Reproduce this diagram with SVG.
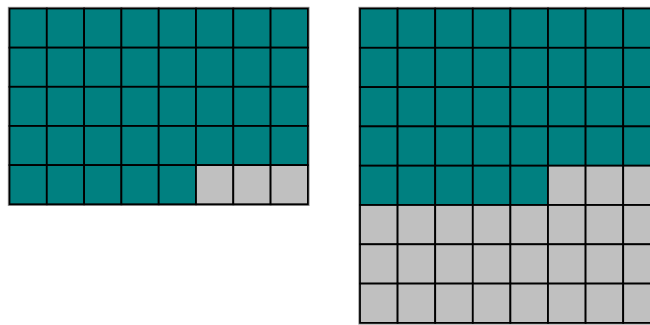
<svg xmlns="http://www.w3.org/2000/svg" width="650" height="325" viewBox="0 0 650 325">
<style>
.t{fill:#008080;stroke:#000;stroke-width:1.8}
.g{fill:#c0c0c0;stroke:#000;stroke-width:1.8}
.o{fill:none;stroke:#999;stroke-width:1}
</style>
<rect width="650" height="325" fill="#fff"/>
<g id="grid-left">
<rect class="o" x="8.3" y="7.3" width="300.8" height="198.2"/>
<g id="left-cells">
<rect class="t" x="9.5" y="8.5" width="37.3" height="39.15"/><rect class="t" x="46.8" y="8.5" width="37.3" height="39.15"/><rect class="t" x="84.1" y="8.5" width="37.3" height="39.15"/><rect class="t" x="121.4" y="8.5" width="37.3" height="39.15"/><rect class="t" x="158.7" y="8.5" width="37.3" height="39.15"/><rect class="t" x="196" y="8.5" width="37.3" height="39.15"/><rect class="t" x="233.3" y="8.5" width="37.3" height="39.15"/><rect class="t" x="270.6" y="8.5" width="37.3" height="39.15"/>
<rect class="t" x="9.5" y="47.65" width="37.3" height="39.15"/><rect class="t" x="46.8" y="47.65" width="37.3" height="39.15"/><rect class="t" x="84.1" y="47.65" width="37.3" height="39.15"/><rect class="t" x="121.4" y="47.65" width="37.3" height="39.15"/><rect class="t" x="158.7" y="47.65" width="37.3" height="39.15"/><rect class="t" x="196" y="47.65" width="37.3" height="39.15"/><rect class="t" x="233.3" y="47.65" width="37.3" height="39.15"/><rect class="t" x="270.6" y="47.65" width="37.3" height="39.15"/>
<rect class="t" x="9.5" y="86.8" width="37.3" height="39.15"/><rect class="t" x="46.8" y="86.8" width="37.3" height="39.15"/><rect class="t" x="84.1" y="86.8" width="37.3" height="39.15"/><rect class="t" x="121.4" y="86.8" width="37.3" height="39.15"/><rect class="t" x="158.7" y="86.8" width="37.3" height="39.15"/><rect class="t" x="196" y="86.8" width="37.3" height="39.15"/><rect class="t" x="233.3" y="86.8" width="37.3" height="39.15"/><rect class="t" x="270.6" y="86.8" width="37.3" height="39.15"/>
<rect class="t" x="9.5" y="125.95" width="37.3" height="39.15"/><rect class="t" x="46.8" y="125.95" width="37.3" height="39.15"/><rect class="t" x="84.1" y="125.95" width="37.3" height="39.15"/><rect class="t" x="121.4" y="125.95" width="37.3" height="39.15"/><rect class="t" x="158.7" y="125.95" width="37.3" height="39.15"/><rect class="t" x="196" y="125.95" width="37.3" height="39.15"/><rect class="t" x="233.3" y="125.95" width="37.3" height="39.15"/><rect class="t" x="270.6" y="125.95" width="37.3" height="39.15"/>
<rect class="t" x="9.5" y="165.1" width="37.3" height="39.15"/><rect class="t" x="46.8" y="165.1" width="37.3" height="39.15"/><rect class="t" x="84.1" y="165.1" width="37.3" height="39.15"/><rect class="t" x="121.4" y="165.1" width="37.3" height="39.15"/><rect class="t" x="158.7" y="165.1" width="37.3" height="39.15"/><rect class="g" x="196" y="165.1" width="37.3" height="39.15"/><rect class="g" x="233.3" y="165.1" width="37.3" height="39.15"/><rect class="g" x="270.6" y="165.1" width="37.3" height="39.15"/>
</g>
</g>
<g id="grid-right">
<rect class="o" x="358.8" y="7.3" width="310" height="316.8"/>
<g id="right-cells">
<rect class="t" x="360" y="8.5" width="37.6" height="39.3"/><rect class="t" x="397.6" y="8.5" width="37.6" height="39.3"/><rect class="t" x="435.2" y="8.5" width="37.6" height="39.3"/><rect class="t" x="472.8" y="8.5" width="37.6" height="39.3"/><rect class="t" x="510.4" y="8.5" width="37.6" height="39.3"/><rect class="t" x="548" y="8.5" width="37.6" height="39.3"/><rect class="t" x="585.6" y="8.5" width="37.6" height="39.3"/><rect class="t" x="623.2" y="8.5" width="37.6" height="39.3"/>
<rect class="t" x="360" y="47.8" width="37.6" height="39.3"/><rect class="t" x="397.6" y="47.8" width="37.6" height="39.3"/><rect class="t" x="435.2" y="47.8" width="37.6" height="39.3"/><rect class="t" x="472.8" y="47.8" width="37.6" height="39.3"/><rect class="t" x="510.4" y="47.8" width="37.6" height="39.3"/><rect class="t" x="548" y="47.8" width="37.6" height="39.3"/><rect class="t" x="585.6" y="47.8" width="37.6" height="39.3"/><rect class="t" x="623.2" y="47.8" width="37.6" height="39.3"/>
<rect class="t" x="360" y="87.1" width="37.6" height="39.3"/><rect class="t" x="397.6" y="87.1" width="37.6" height="39.3"/><rect class="t" x="435.2" y="87.1" width="37.6" height="39.3"/><rect class="t" x="472.8" y="87.1" width="37.6" height="39.3"/><rect class="t" x="510.4" y="87.1" width="37.6" height="39.3"/><rect class="t" x="548" y="87.1" width="37.6" height="39.3"/><rect class="t" x="585.6" y="87.1" width="37.6" height="39.3"/><rect class="t" x="623.2" y="87.1" width="37.6" height="39.3"/>
<rect class="t" x="360" y="126.4" width="37.6" height="39.3"/><rect class="t" x="397.6" y="126.4" width="37.6" height="39.3"/><rect class="t" x="435.2" y="126.4" width="37.6" height="39.3"/><rect class="t" x="472.8" y="126.4" width="37.6" height="39.3"/><rect class="t" x="510.4" y="126.4" width="37.6" height="39.3"/><rect class="t" x="548" y="126.4" width="37.6" height="39.3"/><rect class="t" x="585.6" y="126.4" width="37.6" height="39.3"/><rect class="t" x="623.2" y="126.4" width="37.6" height="39.3"/>
<rect class="t" x="360" y="165.7" width="37.6" height="39.3"/><rect class="t" x="397.6" y="165.7" width="37.6" height="39.3"/><rect class="t" x="435.2" y="165.7" width="37.6" height="39.3"/><rect class="t" x="472.8" y="165.7" width="37.6" height="39.3"/><rect class="t" x="510.4" y="165.7" width="37.6" height="39.3"/><rect class="g" x="548" y="165.7" width="37.6" height="39.3"/><rect class="g" x="585.6" y="165.7" width="37.6" height="39.3"/><rect class="g" x="623.2" y="165.7" width="37.6" height="39.3"/>
<rect class="g" x="360" y="205" width="37.6" height="39.3"/><rect class="g" x="397.6" y="205" width="37.6" height="39.3"/><rect class="g" x="435.2" y="205" width="37.6" height="39.3"/><rect class="g" x="472.8" y="205" width="37.6" height="39.3"/><rect class="g" x="510.4" y="205" width="37.6" height="39.3"/><rect class="g" x="548" y="205" width="37.6" height="39.3"/><rect class="g" x="585.6" y="205" width="37.6" height="39.3"/><rect class="g" x="623.2" y="205" width="37.6" height="39.3"/>
<rect class="g" x="360" y="244.3" width="37.6" height="39.3"/><rect class="g" x="397.6" y="244.3" width="37.6" height="39.3"/><rect class="g" x="435.2" y="244.3" width="37.6" height="39.3"/><rect class="g" x="472.8" y="244.3" width="37.6" height="39.3"/><rect class="g" x="510.4" y="244.3" width="37.6" height="39.3"/><rect class="g" x="548" y="244.3" width="37.6" height="39.3"/><rect class="g" x="585.6" y="244.3" width="37.6" height="39.3"/><rect class="g" x="623.2" y="244.3" width="37.6" height="39.3"/>
<rect class="g" x="360" y="283.6" width="37.6" height="39.3"/><rect class="g" x="397.6" y="283.6" width="37.6" height="39.3"/><rect class="g" x="435.2" y="283.6" width="37.6" height="39.3"/><rect class="g" x="472.8" y="283.6" width="37.6" height="39.3"/><rect class="g" x="510.4" y="283.6" width="37.6" height="39.3"/><rect class="g" x="548" y="283.6" width="37.6" height="39.3"/><rect class="g" x="585.6" y="283.6" width="37.6" height="39.3"/><rect class="g" x="623.2" y="283.6" width="37.6" height="39.3"/>
</g>
</g>
</svg>
